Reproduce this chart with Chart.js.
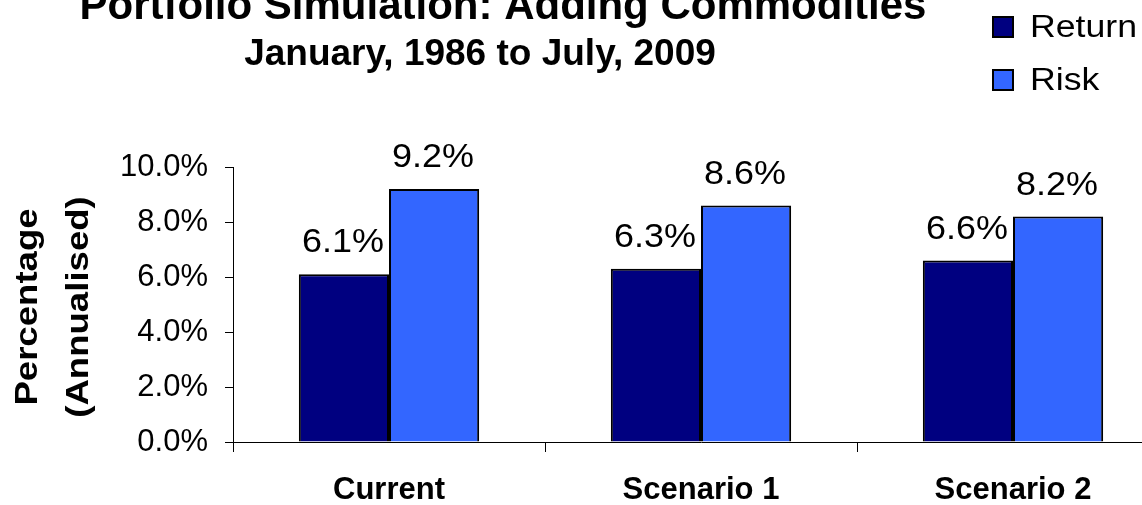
<!DOCTYPE html>
<html>
<head>
<meta charset="utf-8">
<script src="https://cdn.jsdelivr.net/npm/chart.js@4/dist/chart.umd.min.js"></script>
<style>
	html, body { margin: 0; padding: 0; background: #fff; overflow: hidden; }
	#wrap { width: 1142px; height: 505px; overflow: hidden; }
</style>
</head>
<body>
<div id="wrap"><canvas id="mycanvas" width="1175" height="505"></canvas></div>
<script>
const categories = ['Current', 'Scenario 1', 'Scenario 2'];
const returnValues = [6.1, 6.3, 6.6];
const riskValues = [9.2, 8.6, 8.2];
const seriesNames = ['Return', 'Risk'];
const titleText = 'Portfolio Simulation: Adding Commodities';
const subtitleText = 'January, 1986 to July, 2009';
const yTitle = ['Percentage', '(Annualised)'];

const FONT = '"Liberation Sans", Arial, Helvetica, sans-serif';

// the original text is a little wider than Arial, so stretch it along x
function stretchText(ctx, text, x, y, sx) {
	ctx.save();
	ctx.translate(x, y);
	ctx.scale(sx, 1);
	ctx.fillText(text, 0, 0);
	ctx.restore();
}

// titles are not centred over the canvas in the original, so draw them by hand
const titlePlugin = {
	id: 'titles',
	afterDraw(chart) {
		const ctx = chart.ctx;
		ctx.save();
		ctx.fillStyle = '#000';
		ctx.textAlign = 'center';
		ctx.textBaseline = 'alphabetic';
		ctx.font = 'bold 42px ' + FONT;
		ctx.fillText(titleText, 503, 19);
		ctx.font = 'bold 37px ' + FONT;
		ctx.fillText(subtitleText, 480, 65);

		// y axis title, two rotated lines
		ctx.font = 'bold 31px ' + FONT;
		ctx.translate(0, 307);
		ctx.rotate(-Math.PI / 2);
		yTitle.forEach((line, i) => {
			stretchText(ctx, line, 0, 37 + i * 51, 1.18);
		});
		ctx.restore();
	},
};

// legend stacked in the top right corner
const legendPlugin = {
	id: 'stackLegend',
	afterDraw(chart) {
		const ctx = chart.ctx;
		ctx.save();
		ctx.font = '31px ' + FONT;
		ctx.textBaseline = 'alphabetic';
		ctx.textAlign = 'left';
		chart.data.datasets.forEach((ds, i) => {
			const top = 17 + i * 53;
			ctx.fillStyle = ds.backgroundColor;
			ctx.fillRect(993, top, 20, 20);
			ctx.lineWidth = 2;
			ctx.strokeStyle = '#000';
			ctx.strokeRect(993, top, 20, 20);
			ctx.fillStyle = '#000';
			stretchText(ctx, ds.label, 1030, top + 20, 1.15);
		});
		ctx.restore();
	},
};

// value labels above each bar
const valueLabels = {
	id: 'valueLabels',
	afterDatasetsDraw(chart) {
		const ctx = chart.ctx;
		ctx.save();
		ctx.font = '33px ' + FONT;
		ctx.fillStyle = '#000';
		ctx.textAlign = 'center';
		ctx.textBaseline = 'alphabetic';
		chart.data.datasets.forEach((ds, i) => {
			chart.getDatasetMeta(i).data.forEach((bar, j) => {
				stretchText(ctx, ds.data[j].toFixed(1) + '%', bar.x - 1, bar.y - 22, 1.09);
			});
		});
		ctx.restore();
	},
};

new Chart(document.getElementById('mycanvas'), {
	type: 'bar',
	data: {
		labels: categories,
		datasets: [
			{
				label: seriesNames[0],
				data: returnValues,
				backgroundColor: '#000080',
				borderColor: '#000',
				borderWidth: 2,
				categoryPercentage: 0.578,
				barPercentage: 1.0,
			},
			{
				label: seriesNames[1],
				data: riskValues,
				backgroundColor: '#3366FF',
				borderColor: '#000',
				borderWidth: 2,
				categoryPercentage: 0.578,
				barPercentage: 1.0,
			},
		],
	},
	options: {
		responsive: false,
		animation: false,
		devicePixelRatio: 1,
		layout: { padding: { top: 167, right: 6, left: 0, bottom: 0 } },
		plugins: {
			legend: { display: false },
			title: { display: false },
			tooltip: { enabled: false },
		},
		scales: {
			x: {
				grid: {
					offset: true,
					drawOnChartArea: false,
					tickLength: 10,
					color: '#000',
				},
				border: { color: '#000', width: 1 },
				ticks: {
					color: '#000',
					padding: 20,
					font: { family: FONT, size: 31, weight: 'bold' },
				},
				afterFit(scale) {
					scale.height = 63;
				},
			},
			y: {
				min: 0,
				max: 10,
				grid: {
					drawOnChartArea: false,
					tickLength: 8,
					color: '#000',
				},
				border: { color: '#000', width: 1 },
				ticks: {
					stepSize: 2,
					color: '#000',
					padding: 17,
					font: { family: FONT, size: 31 },
					callback: (v) => v.toFixed(1) + '%',
				},
				afterFit(scale) {
					scale.width = 233;
				},
			},
		},
	},
	plugins: [titlePlugin, legendPlugin, valueLabels],
});
</script>
</body>
</html>
